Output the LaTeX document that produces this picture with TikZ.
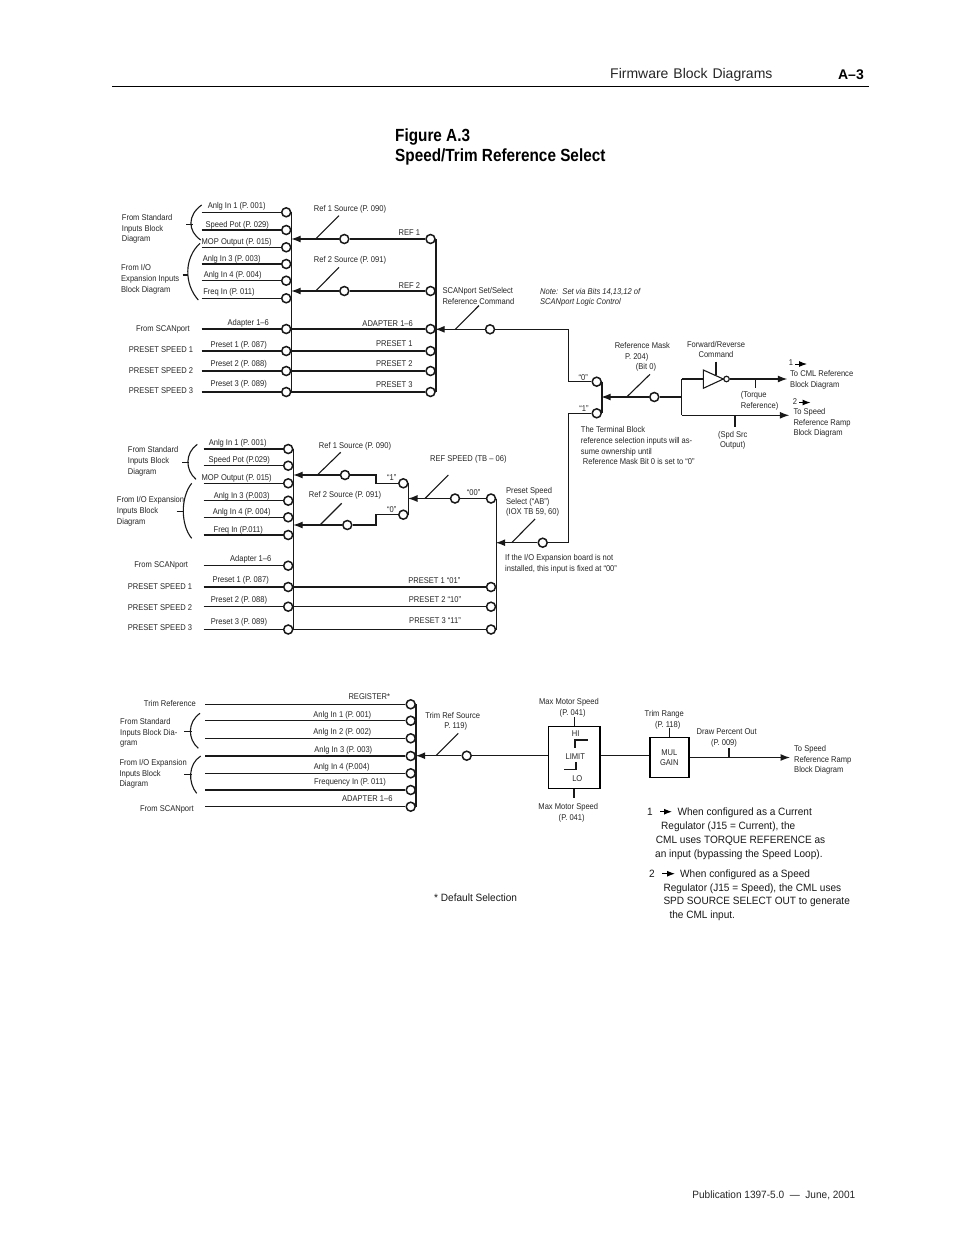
\documentclass[tikz,border=0pt]{standalone}
\usepackage{fontspec}
\setmainfont{Liberation Sans}
\newfontfamily\titlefont[FakeStretch=0.87]{Liberation Sans}
\newfontfamily\smallf[FakeStretch=0.9]{Liberation Sans}
\newfontfamily\notef[FakeStretch=0.95]{Liberation Sans}
\usetikzlibrary{arrows.meta}
\tikzset{
  x=1pt,y=-1pt,
  wire/.style={line width=1.2pt,draw=black!90},
  tap/.style={line width=1.1pt,draw=black!90},
  bus/.style={line width=1.5pt,draw=black!90},
  brace/.style={line width=1.1pt,draw=black!90},
  arr/.style={wire,-{Latex[length=9.5pt,width=7pt]}},
  sarr/.style={line width=1pt,draw=black,-{Latex[length=8pt,width=6pt]}},
  term/.style={circle,draw=black!90,fill=white,line width=1.5pt,minimum size=9pt,inner sep=0pt},
  lbl/.style={inner sep=0pt,yshift=-1.4pt,font=\smallf\fontsize{8.4}{10.6}\selectfont,text=black!85,text height=5.5pt,text depth=1.5pt},
  mlbl/.style={inner sep=0pt,yshift=-1.4pt,font=\smallf\fontsize{8.4}{10.6}\selectfont,text=black!85,align=left},
  clbl/.style={mlbl,align=center},
  nlbl/.style={inner sep=0pt,yshift=-1.2pt,font=\notef\fontsize{10.6}{13.9}\selectfont,text=black!90,text height=7pt,text depth=2pt},
  box/.style={draw=black,line width=1.3pt,fill=none,inner sep=0pt},
}
\begin{document}
\begin{tikzpicture}
\useasboundingbox (0,0) rectangle (954,1235);
\fill[white] (0,0) rectangle (954,1235);
% ---- page header and footer
\coordinate (ruleL) at (112,86); \coordinate (ruleR) at (869,86);
\draw[line width=1pt] (ruleL) -- (ruleR);
\node[anchor=west,inner sep=0pt,yshift=-2pt,font=\fontsize{14}{16}\selectfont,text=black!85] (hdr) at (610,73) {Firmware\hspace{1pt} Block\hspace{1pt} Diagrams};
\node[anchor=east,inner sep=0pt,yshift=-2pt,font=\fontsize{14}{16}\selectfont\bfseries] (pg) at (864,73) {A–3};
\node[anchor=west,inner sep=0pt,yshift=-2pt,font=\fontsize{17.6}{20}\selectfont\titlefont\bfseries] (t1) at (395,135) {Figure A.3};
\node[anchor=west,inner sep=0pt,yshift=-2pt,font=\fontsize{17.6}{20}\selectfont\titlefont\bfseries] (t2) at (395,155) {Speed/Trim Reference Select};
\node[anchor=east,inner sep=0pt,yshift=-0.5pt,font=\notef\fontsize{10.6}{12}\selectfont,text=black!85] (foot) at (855.5,1195) {Publication 1397-5.0 \ — \ June, 2001};

% ======== PANEL 1 ========
\foreach \n/\y/\t/\lx/\ly in {
 1/212.3/{Anlg In 1 (P. 001)}/236.7/204.7,
 2/230/{Speed Pot (P. 029)}/237.3/224,
 3/247.3/{MOP Output (P. 015)}/236.7/241,
 4/264/{Anlg In 3 (P. 003)}/231.7/258,
 5/280.7/{Anlg In 4 (P. 004)}/232.7/274,
 6/298.3/{Freq In (P. 011)}/229/290.7,
 7/329/{Adapter 1–6}/248.3/322,
 8/351/{Preset 1 (P. 087)}/238.7/344,
 9/371/{Preset 2 (P. 088)}/238.7/363.3,
 10/392/{Preset 3 (P. 089)}/238.7/383.3}{
  \node[term] (a\n) at (286.2,\y) {};
  \coordinate (as\n) at (201.5,\y);
  \draw[wire] (as\n) -- (a\n);
  \node[lbl] (al\n) at (\lx,\ly) {\t};
}
\draw[bus] (a1.east) -- (a10.east);
\foreach \n/\y/\t/\lx/\ly in {
 1/239/{REF 1}/409.3/232.3,
 2/291/{REF 2}/409.3/284.7,
 3/329/{ADAPTER 1–6}/387.7/322.7,
 4/351/{PRESET 1}/394.3/342.7,
 5/371/{PRESET 2}/394.3/363.3,
 6/392/{PRESET 3}/394.3/383.7}{
  \node[term] (r\n) at (430.5,\y) {};
  \node[lbl] (rl\n) at (\lx,\ly) {\t};
}
\draw[bus] (r1.east) -- (r6.east);
\draw[wire] (a7.east) -- (r3);
\draw[wire] (a8.east) -- (r4);
\draw[wire] (a9.east) -- (r5);
\draw[wire] (a10.east) -- (r6);
% ref selectors
\node[term] (m1) at (344.3,239) {};
\node[term] (m2) at (344.3,291) {};
\draw[wire] (m1) -- (r1);
\draw[wire] (m2) -- (r2);
\coordinate (b1) at (291.2,239); \coordinate (b2) at (291.2,291);
\draw[arr] (m1) -- (b1);
\draw[arr] (m2) -- (b2);
\coordinate (k1a) at (315.7,239); \coordinate (k1b) at (339,215.7);
\coordinate (k2a) at (315.7,291); \coordinate (k2b) at (339,267.3);
\draw[tap] (k1a) -- (k1b);
\draw[tap] (k2a) -- (k2b);
\node[lbl] (s1) at (350,208.3) {Ref 1 Source (P. 090)};
\node[lbl] (s2) at (350,258.7) {Ref 2 Source (P. 091)};
% braces and left labels
\coordinate (c1a) at (201.7,205); \coordinate (c1b) at (200.7,240); \coordinate (c1m) at (192.7,224.3); \coordinate (c1t) at (186,224.3);
\draw[brace] (c1a) .. controls (187.5,215) and (187.5,231) .. (c1b);
\draw[brace] (c1t) -- (c1m);
\coordinate (c2a) at (200,243.3); \coordinate (c2b) at (198.3,300); \coordinate (c2m) at (188.3,275); \coordinate (c2t) at (182.7,275);
\draw[brace] (c2a) .. controls (184,258) and (184,284) .. (c2b);
\draw[brace] (c2t) -- (c2m);
\node[mlbl,anchor=west] (f1) at (121.7,227.7) {From Standard\\Inputs Block\\Diagram};
\node[mlbl,anchor=west] (f2) at (121,278) {From I/O\\Expansion Inputs\\Block Diagram};
\node[lbl,anchor=east] (f3) at (190,328) {From SCANport};
\node[lbl,anchor=east] (f4) at (193.3,349.3) {PRESET SPEED 1};
\node[lbl,anchor=east] (f5) at (193.3,370.3) {PRESET SPEED 2};
\node[lbl,anchor=east] (f6) at (193.3,390) {PRESET SPEED 3};

% ======== SCANport select and mask ========
\node[term] (m3) at (490,329.3) {};
\coordinate (b3) at (435.2,329.3);
\draw[arr] (m3) -- (b3);
\coordinate (k3a) at (455.3,329.3); \coordinate (k3b) at (479,305.5);
\draw[tap] (k3a) -- (k3b);
\node[mlbl,anchor=west] (n1) at (442.3,294.5) {SCANport Set/Select\\Reference Command};
\node[mlbl,anchor=west,font=\smallf\fontsize{8.4}{10.2}\selectfont\itshape] (n2) at (540,295.7) {Note:\ \ Set via Bits 14,13,12 of\\SCANport Logic Control};
\node[term] (z0) at (596.7,381.7) {};
\node[term] (z1) at (596.7,413.3) {};
\draw[bus] (z0.east) -- (z1.east);
\coordinate (w1) at (568.3,329.3); \coordinate (w2) at (568.3,381.7); \coordinate (w3) at (568.3,413.3); \coordinate (w4) at (568.3,542.7);
\draw[wire] (m3) -- (w1) -- (w2) -- (z0);
\draw[wire] (z1) -- (w3) -- (w4);
\node[lbl] (q0) at (583.3,376.7) {“0”};
\node[lbl] (q1) at (584,408) {“1”};
\node[term] (m4) at (654.3,397) {};
\coordinate (b4) at (601.2,397);
\draw[arr] (m4) -- (b4);
\coordinate (k4a) at (626.7,397); \coordinate (k4b) at (650,374.3);
\draw[tap] (k4a) -- (k4b);
\node[lbl] (rm1) at (642.3,344.7) {Reference Mask};
\node[lbl] (rm2) at (636.7,355.7) {P. 204)};
\node[lbl] (rm3) at (646,366) {(Bit 0)};
\node[mlbl,anchor=west] (tb) at (580.7,444.3) {The Terminal Block\\reference selection inputs will as-\\sume ownership until\\\hspace*{2pt}Reference Mask Bit 0 is set to “0”};
% inverter
\coordinate (j) at (681.7,397);
\coordinate (ju) at (681.7,379); \coordinate (jd) at (681.7,415.3);
\coordinate (inv1) at (703.3,370); \coordinate (inv2) at (703.3,388.3); \coordinate (inv3) at (723.3,379);
\draw[line width=1.1pt,draw=black!90] (inv1) -- (inv3) -- (inv2) -- cycle;
\node[circle,draw=black!90,fill=white,line width=1.2pt,minimum size=5.5pt,inner sep=0pt] (bub) at (726.5,379) {};
\coordinate (inl) at (703.3,379);
\draw[wire] (m4) -- (j);
\draw[wire] (ju) -- (jd);
\draw[wire] (ju) -- (inl);
\coordinate (ctl1) at (716,361.7); \coordinate (ctl2) at (716,374.5);
\draw[wire] (ctl1) -- (ctl2);
\coordinate (o1) at (787.3,379); \coordinate (o2) at (789.3,415.3);
\draw[arr] (bub) -- (o1);
\draw[arr] (jd) -- (o2);
\coordinate (k5a) at (755.7,379); \coordinate (k5b) at (755.7,387.7);
\coordinate (k6a) at (735,415.3); \coordinate (k6b) at (735,427.3);
\draw[bus] (k5a) -- (k5b);
\draw[bus] (k6a) -- (k6b);
\node[clbl] (fr2) at (716,348.2) {Forward/Reverse\\Command};
\node[mlbl,anchor=west] (tq) at (740.7,399.3) {(Torque\\Reference)};
\node[clbl] (spd) at (732.7,438.8) {(Spd Src\\Output)};
\node[lbl] (one) at (791,361.7) {1};
\coordinate (ar1a) at (795,364); \coordinate (ar1b) at (807,364);
\draw[sarr] (ar1a) -- (ar1b);
\node[mlbl,anchor=west] (cml) at (790,378.3) {To CML Reference\\Block Diagram};
\node[lbl] (two) at (795,401) {2};
\coordinate (ar2a) at (799,402.5); \coordinate (ar2b) at (810.5,402.5);
\draw[sarr] (ar2a) -- (ar2b);
\node[mlbl,anchor=west] (ramp) at (793.3,421.5) {To Speed\\Reference Ramp\\Block Diagram};

% ======== PANEL 2 ========
\foreach \n/\y/\t/\lx/\ly in {
 1/449/{Anlg In 1 (P. 001)}/237.7/442,
 2/465.7/{Speed Pot (P.029)}/239.3/459,
 3/483.3/{MOP Output (P. 015)}/236.7/477.3,
 4/500.7/{Anlg In 3 (P.003)}/241.7/495,
 5/517.3/{Anlg In 4 (P. 004)}/241.7/511,
 6/535/{Freq In (P.011)}/238.3/529,
 7/565.7/{Adapter 1–6}/250.7/558,
 8/587/{Preset 1 (P. 087)}/240.7/579.3,
 9/606.7/{Preset 2 (P. 088)}/239/599.3,
 10/629.5/{Preset 3 (P. 089)}/239/620.7}{
  \node[term] (d\n) at (288.2,\y) {};
  \coordinate (ds\n) at (203.5,\y);
  \draw[wire] (ds\n) -- (d\n);
  \node[lbl] (dl\n) at (\lx,\ly) {\t};
}
\draw[bus] (d1.east) -- (d10.east);
\node[term] (e0) at (491,498.5) {};
\node[term] (e1) at (491,587) {};
\node[term] (e2) at (491,606.7) {};
\node[term] (e3) at (491,629.5) {};
\draw[bus] (e0.east) -- (e3.east);
\draw[wire] (d8.east) -- (e1);
\draw[wire] (d9.east) -- (e2);
\draw[wire] (d10.east) -- (e3);
\node[lbl] (el1) at (434.3,579.7) {PRESET 1 “01”};
\node[lbl] (el2) at (435,599) {PRESET 2 “10”};
\node[lbl] (el3) at (435,620.3) {PRESET 3 “11”};
\node[term] (g1) at (403.3,483.3) {};
\node[term] (g0) at (403.3,514.7) {};
\draw[bus] (g1.east) -- (g0.east);
\node[lbl] (gq1) at (391.7,477.3) {“1”};
\node[lbl] (gq0) at (391.7,509.3) {“0”};
\node[term] (h1) at (345,475) {};
\node[term] (h2) at (347.3,525) {};
\coordinate (st1a) at (376,475); \coordinate (st1b) at (376,483.3);
\coordinate (st2a) at (376,525); \coordinate (st2b) at (376,514.7);
\draw[wire] (h1) -- (st1a) -- (st1b) -- (g1);
\draw[wire] (h2) -- (st2a) -- (st2b) -- (g0);
\coordinate (b5) at (293.2,475); \coordinate (b6) at (293.2,525);
\draw[arr] (h1) -- (b5);
\draw[arr] (h2) -- (b6);
\coordinate (k7a) at (317.3,475); \coordinate (k7b) at (340.7,452.3);
\coordinate (k8a) at (320,525); \coordinate (k8b) at (341.7,503.3);
\draw[tap] (k7a) -- (k7b);
\draw[tap] (k8a) -- (k8b);
\node[lbl] (s3) at (355,444.7) {Ref 1 Source (P. 090)};
\node[lbl] (s4) at (345,494) {Ref 2 Source (P. 091)};
\node[term] (h3) at (455,498.5) {};
\coordinate (b7) at (408,498.5);
\draw[wire] (h3) -- (e0);
\draw[arr] (h3) -- (b7);
\coordinate (k9a) at (425,498.5); \coordinate (k9b) at (448.3,475);
\draw[tap] (k9a) -- (k9b);
\node[lbl] (rs) at (468.3,457.7) {REF SPEED (TB – 06)};
\node[lbl] (q00) at (473.7,492.3) {“00”};
\node[term] (h4) at (542.7,542.7) {};
\coordinate (b8) at (495.7,542.7);
\draw[wire] (w4) -- (h4);
\draw[arr] (h4) -- (b8);
\coordinate (k10a) at (511.7,542.7); \coordinate (k10b) at (535,519);
\draw[tap] (k10a) -- (k10b);
\node[mlbl,anchor=west] (ps) at (506,500.5) {Preset Speed\\Select (“AB”)\\(IOX TB 59, 60)};
\node[mlbl,anchor=west] (iox) at (505,562.2) {If the I/O Expansion board is not\\installed, this input is fixed at “00”};
\coordinate (c3a) at (197.3,444.3); \coordinate (c3b) at (196,479.3); \coordinate (c3m) at (189,462.3); \coordinate (c3t) at (182.3,462.3);
\draw[brace] (c3a) .. controls (185,453) and (185,470) .. (c3b);
\draw[brace] (c3t) -- (c3m);
\coordinate (c4a) at (191.7,483.3); \coordinate (c4b) at (191.7,538.3); \coordinate (c4m) at (183.3,511.7); \coordinate (c4t) at (176.7,511.7);
\draw[brace] (c4a) .. controls (180.5,497) and (180.5,525) .. (c4b);
\draw[brace] (c4t) -- (c4m);
\node[mlbl,anchor=west] (f7) at (127.7,460) {From Standard\\Inputs Block\\Diagram};
\node[mlbl,anchor=west] (f8) at (116.7,510) {From I/O Expansion\\Inputs Block\\Diagram};
\node[lbl,anchor=east] (f9) at (188.3,563.7) {From SCANport};
\node[lbl,anchor=east] (f10) at (192.3,586) {PRESET SPEED 1};
\node[lbl,anchor=east] (f11) at (192.3,606.7) {PRESET SPEED 2};
\node[lbl,anchor=east] (f12) at (192.3,626.7) {PRESET SPEED 3};

% ======== PANEL 3 ========
\foreach \n/\y/\t/\lx/\ly in {
 1/704.3/{REGISTER*}/369.3/696,
 2/720.7/{Anlg In 1 (P. 001)}/342.3/714,
 3/738.3/{Anlg In 2 (P. 002)}/342.3/730.7,
 4/756/{Anlg In 3 (P. 003)}/343.3/749.3,
 5/773.3/{Anlg In 4 (P.004)}/341.7/765.7,
 6/790/{Frequency In (P. 011)}/350/781.3,
 7/806.7/{ADAPTER 1–6}/367.3/798.3}{
  \node[term] (u\n) at (410.7,\y) {};
  \coordinate (us\n) at (205,\y);
  \draw[wire] (us\n) -- (u\n);
  \node[lbl] (ul\n) at (\lx,\ly) {\t};
}
\draw[bus] (u1.east) -- (u7.east);
\node[term] (m5) at (466.7,755.7) {};
\coordinate (b9) at (415.7,755.7);
\draw[arr] (m5) -- (b9);
\coordinate (k11a) at (436,755.7); \coordinate (k11b) at (458.3,733.3);
\draw[tap] (k11a) -- (k11b);
\node[lbl] (tr1) at (452.7,715) {Trim Ref Source};
\node[lbl] (tr2) at (455.7,725) {P. 119)};
\node[box,minimum width=51.7pt,minimum height=61.6pt] (lim) at (574.15,757.5) {};
\draw[wire] (m5) -- (m5 -| lim.west);
\node[box,minimum width=39pt,minimum height=40.4pt,line width=1.5pt] (mul) at (669.5,757.5) {};
\draw[wire] (m5 -| lim.east) -- (m5 -| mul.west);
\coordinate (o3) at (790,757.5);
\draw[arr] (mul.east) -- (o3);
\coordinate (k12a) at (729,757.5); \coordinate (k12b) at (729,748.3);
\draw[bus] (k12a) -- (k12b);
\coordinate (k13b) at (669.5,728);
\draw[bus] (mul.north) -- (k13b);
\coordinate (k14b) at (574.15,717);
\draw[wire] (lim.north) -- (k14b);
\coordinate (k15b) at (574.15,798);
\draw[bus] (lim.south) -- (k15b);
\coordinate (l1) at (587.7,740); \coordinate (l2) at (575,740); \coordinate (l3) at (575,748.3);
\coordinate (l4) at (564,769.3); \coordinate (l5) at (576,769.3); \coordinate (l6) at (576,762.3);
\draw[wire] (l1) -- (l2) -- (l3);
\draw[wire] (l4) -- (l5) -- (l6);
\node[lbl] (hi) at (575.7,733.3) {HI};
\node[lbl] (lm) at (575.3,755.7) {LIMIT};
\node[lbl] (lo) at (577.3,777.7) {LO};
\node[lbl] (mm1) at (569,700.7) {Max Motor Speed};
\node[lbl] (mm2) at (572.7,712.3) {(P. 041)};
\node[lbl] (mm3) at (568.3,805.7) {Max Motor Speed};
\node[lbl] (mm4) at (571.7,817) {(P. 041)};
\node[lbl] (trr1) at (664.3,713) {Trim Range};
\node[lbl] (trr2) at (667.7,723.7) {(P. 118)};
\node[clbl] (gain) at (669.3,756.2) {MUL\\GAIN};
\node[lbl] (dp1) at (726.7,731) {Draw Percent Out};
\node[lbl] (dp2) at (724,742.3) {(P. 009)};
\node[mlbl,anchor=west] (tsr) at (794,758.5) {To Speed\\Reference Ramp\\Block Diagram};
\coordinate (c5a) at (200,713.3); \coordinate (c5b) at (198.3,748.3); \coordinate (c5m) at (191.7,731.7); \coordinate (c5t) at (184,731.7);
\draw[brace] (c5a) .. controls (187.5,722) and (187.5,739) .. (c5b);
\draw[brace] (c5t) -- (c5m);
\coordinate (c6a) at (200.7,756); \coordinate (c6b) at (196.7,793.3); \coordinate (c6m) at (192.3,774.3); \coordinate (c6t) at (184,774.3);
\draw[brace] (c6a) .. controls (188,764) and (188,783) .. (c6b);
\draw[brace] (c6t) -- (c6m);
\node[lbl,anchor=east] (f13) at (196,702.7) {Trim Reference};
\node[mlbl,anchor=west] (f14) at (120,731.5) {From Standard\\Inputs Block Dia-\\gram};
\node[mlbl,anchor=west] (f15) at (119.3,772.5) {From I/O Expansion\\Inputs Block\\Diagram};
\node[lbl,anchor=east] (f16) at (194,808) {From SCANport};

% ======== NOTES ========
\node[nlbl,anchor=west] (nb1) at (647,811.7) {1};
\coordinate (na1) at (660,811.7); \coordinate (na1b) at (672,811.7);
\draw[sarr] (na1) -- (na1b);
\node[nlbl,anchor=west] (nt1) at (677.3,811.7) {When configured as a Current};
\node[nlbl,anchor=west] (nt2) at (661,825.7) {Regulator (J15 = Current), the};
\node[nlbl,anchor=west] (nt3) at (655.7,839.7) {CML uses TORQUE REFERENCE as};
\node[nlbl,anchor=west] (nt4) at (655,853.3) {an input (bypassing the Speed Loop).};
\node[nlbl,anchor=west] (nb2) at (649,873.7) {2};
\coordinate (na2) at (662.3,873.7); \coordinate (na2b) at (675,873.7);
\draw[sarr] (na2) -- (na2b);
\node[nlbl,anchor=west] (nt5) at (680,873.7) {When configured as a Speed};
\node[nlbl,anchor=west] (nt6) at (663.3,887.7) {Regulator (J15 = Speed), the CML uses};
\node[nlbl,anchor=west] (nt7) at (663.3,901) {SPD SOURCE SELECT OUT to generate};
\node[nlbl,anchor=west] (nt8) at (669.3,915) {the CML input.};
\node[nlbl,anchor=west] (def) at (434,898) {* Default Selection};
\end{tikzpicture}
\end{document}
